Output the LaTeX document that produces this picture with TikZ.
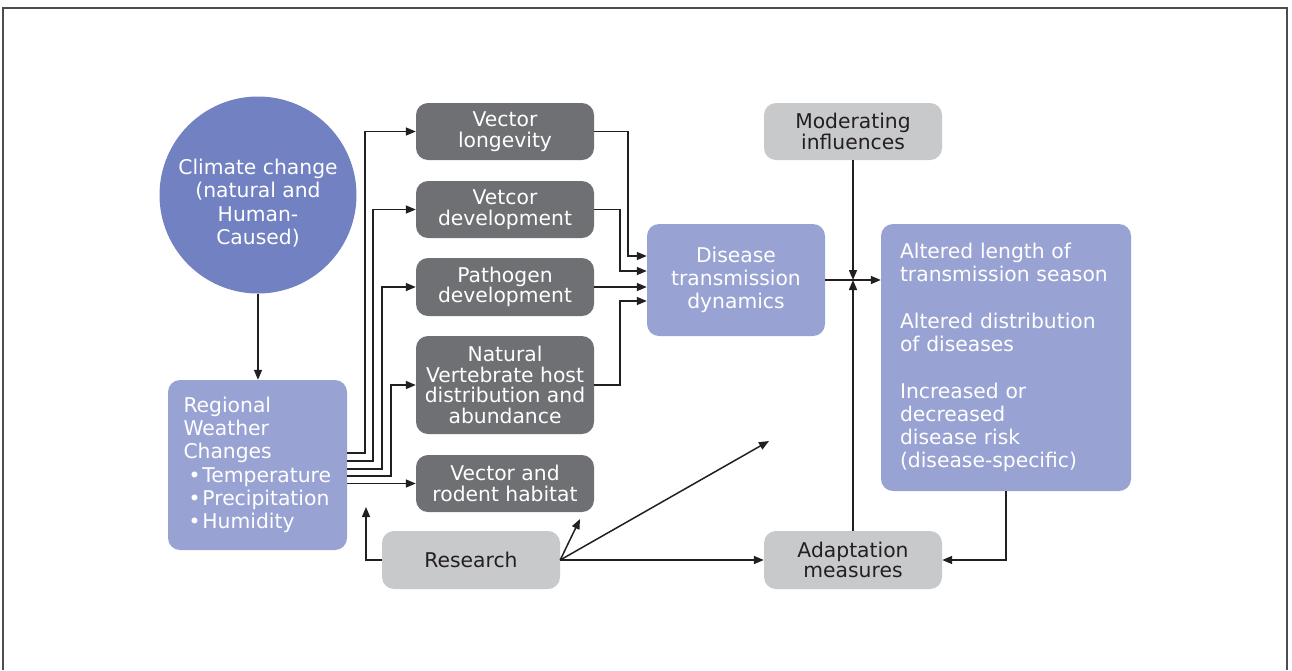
\documentclass[tikz,border=0pt]{standalone}
\usepackage{fontspec}
\setmainfont{DejaVu Sans}
\usepackage{xcolor}
\usetikzlibrary{arrows.meta}
\definecolor{climblue}{HTML}{7281C1}
\definecolor{wxblue}{HTML}{99A3D3}
\definecolor{darkgrey}{HTML}{6F7073}
\definecolor{lightgrey}{HTML}{C8C9CB}
\definecolor{inkline}{HTML}{231F20}
\definecolor{framegrey}{HTML}{4D4D4D}

\begin{document}
\begin{tikzpicture}[x=1pt, y=-1pt]
    \tikzstyle{procbox} = [rectangle, rounded corners=12pt, fill=darkgrey, text=white, align=center, minimum width=178pt, inner xsep=2pt, font=\fontsize{20.3}{20.5}\selectfont]
    \tikzstyle{inflbox} = [procbox, fill=lightgrey, text=inkline]
    \tikzstyle{effbox} = [procbox, fill=wxblue, font=\fontsize{20.3}{23.3}\selectfont]
    \tikzstyle{arr} = [draw=inkline, line width=1.5pt, -{Triangle[length=10pt,width=8pt]}]
    \useasboundingbox (0,0) rectangle (1292,670);
    \draw[framegrey, line width=2pt] (3,670) -- (3,8) -- (1287,8) -- (1287,670);

    \node[circle, fill=climblue, minimum size=197pt, inner sep=0pt,
        label={[text=white, align=center, yshift=-8pt, font=\fontsize{20.3}{23.3}\selectfont]center:Climate change\\(natural and\\Human-\\Caused)}] (climate) at (258,195) {};
    \node[effbox, minimum width=179pt, minimum height=170pt, text width=148pt, align=left] (weather) at (257.5,465)
        {Regional\\Weather\\Changes\\\hspace*{5pt}•\hspace*{2pt}Temperature\\\hspace*{5pt}•\hspace*{2pt}Precipitation\\\hspace*{5pt}•\hspace*{2pt}Humidity};

    \node[procbox, minimum height=57pt] (longevity) at (505,131.5) {Vector\\longevity};
    \node[procbox, minimum height=57pt] (development) at (505,209.5) {Vetcor\\development};
    \node[procbox, minimum height=58pt] (pathogen) at (505,287) {Pathogen\\development};
    \node[procbox, minimum height=98pt] (host) at (505,385) {Natural\\Vertebrate host\\distribution and\\abundance};
    \node[procbox, minimum height=57pt] (habitat) at (505,483.5) {Vector and\\rodent habitat};

    \node[effbox, minimum height=112pt] (disease) at (736,280) {Disease\\transmission\\dynamics};
    \node[inflbox, minimum height=57pt] (moderating) at (853,131.5) {Moderating\\influences};
    \node[effbox, minimum width=250pt, minimum height=267pt, text width=212pt, align=left] (outcomes) at (1006,357.5)
        {Altered length of\\transmission season\\[23.3pt]Altered distribution\\of diseases\\[23.3pt]Increased or\\decreased\\disease risk\\(disease-specific)};
    \node[inflbox, minimum height=58pt] (adaptation) at (853,560) {Adaptation\\measures};
    \node[inflbox, minimum height=58pt] (research) at (471,560) {Research};

    \coordinate (rsup) at (769,441);
    \coordinate (rshab) at (580,519);
    \coordinate (rswx) at (366,507);

    \draw[arr] (climate.south) -- (climate.south |- weather.north);
    \foreach \n/\x/\y in {longevity/365/453, development/373/461, pathogen/382/469, host/391/476}
        \draw[arr] (weather.east |- 0,\y) -- (\x,\y) |- (\n.west);
    \draw[arr] (weather.east |- habitat.west) -- (habitat.west);

    \foreach \n/\x/\dy in {longevity/628/24, development/620/9, host/620/-21}
        \draw[arr] (\n.east) -- (\n.east -| \x,0) |- ([yshift=\dy pt]disease.west);
    \draw[arr] (pathogen.east) -- (pathogen.east -| disease.west);

    \draw[arr] (disease.east) -- (disease.east -| outcomes.west);
    \draw[arr] (moderating.south) -- (moderating.south |- disease.east);
    \draw[arr] (adaptation.north) -- (adaptation.north |- disease.east);
    \draw[arr] (outcomes.south) |- (adaptation.east);
    \draw[arr] (research.east) -- (adaptation.west);
    \draw[arr] (research.east) -- (rsup);
    \draw[arr] (research.east) -- (rshab);
    \draw[arr] (research.west) -| (rswx);
\end{tikzpicture}
\end{document}
